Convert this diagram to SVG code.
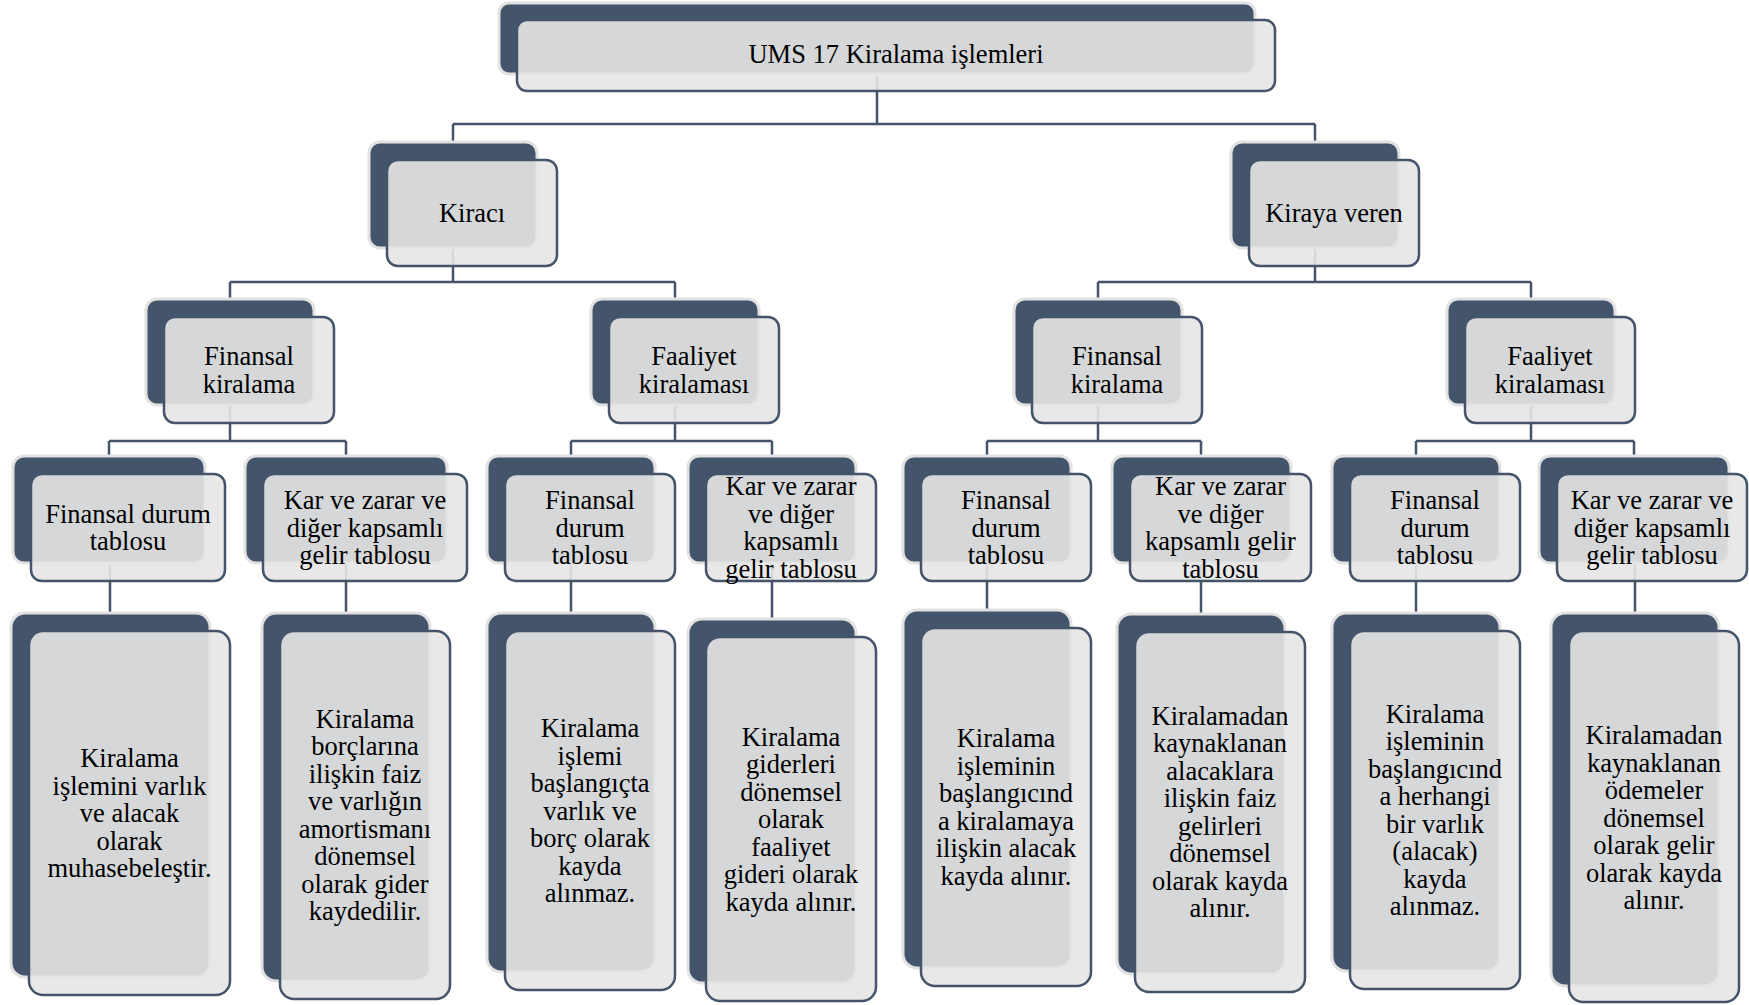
<svg xmlns="http://www.w3.org/2000/svg" width="1749" height="1005" viewBox="0 0 1749 1005">
<style>
.bk{fill:#44546a;stroke:#e2e2e2;stroke-width:3}
.fr{fill:#e6e6e6;fill-opacity:0.9;stroke:#44546a;stroke-width:2.5}
.t{font-family:"Liberation Serif","Times New Roman",serif;font-size:26.5px;fill:#000;text-anchor:middle}
.c{fill:none;stroke:#44546a;stroke-width:2.5}
</style>
<rect width="1749" height="1005" fill="#ffffff"/>
<g id="connectors">
<path class="c" d="M877 60V124M453 124H1315M453 124V142M1315 124V142"/>
<path class="c" d="M453 230V282M230 282H675M230 282V299M675 282V299"/>
<path class="c" d="M1315 230V282M1098 282H1531M1098 282V299M1531 282V299"/>
<path class="c" d="M230 390V441M109 441H346M109 441V456M346 441V456"/>
<path class="c" d="M675 390V441M571 441H772M571 441V456M772 441V456"/>
<path class="c" d="M1098 390V441M987 441H1201M987 441V456M1201 441V456"/>
<path class="c" d="M1531 390V441M1416 441H1634M1416 441V456M1634 441V456"/>
<path class="c" d="M110 550V613M346 550V613M571 550V613M772 550V619M987 550V610M1201 550V614M1416 550V613M1635 550V613"/>
</g>
<g id="n-top"><rect class="bk" x="499" y="3" width="756" height="71" rx="10"/><rect class="fr" x="517" y="20" width="758" height="71" rx="10"/>
<text class="t" x="896" y="63">UMS 17 Kiralama işlemleri</text></g>
<g id="n-kiraci"><rect class="bk" x="369" y="142" width="168" height="106" rx="11"/><rect class="fr" x="387" y="160" width="170" height="106" rx="11"/>
<text class="t" x="472" y="222">Kiracı</text></g>
<g id="n-kirayaveren"><rect class="bk" x="1231" y="142" width="168" height="106" rx="11"/><rect class="fr" x="1249" y="160" width="170" height="106" rx="11"/>
<text class="t" x="1334" y="222">Kiraya veren</text></g>
<g id="n-finL"><rect class="bk" x="146" y="299" width="168" height="106" rx="11"/><rect class="fr" x="164" y="317" width="170" height="106" rx="11"/>
<text class="t"><tspan x="249" y="365">Finansal</tspan><tspan x="249" y="392.5">kiralama</tspan></text></g>
<g id="n-faalL"><rect class="bk" x="591" y="299" width="168" height="106" rx="11"/><rect class="fr" x="609" y="317" width="170" height="106" rx="11"/>
<text class="t"><tspan x="694" y="365">Faaliyet</tspan><tspan x="694" y="392.5">kiralaması</tspan></text></g>
<g id="n-finR"><rect class="bk" x="1014" y="299" width="168" height="106" rx="11"/><rect class="fr" x="1032" y="317" width="170" height="106" rx="11"/>
<text class="t"><tspan x="1117" y="365">Finansal</tspan><tspan x="1117" y="392.5">kiralama</tspan></text></g>
<g id="n-faalR"><rect class="bk" x="1447" y="299" width="168" height="106" rx="11"/><rect class="fr" x="1465" y="317" width="170" height="106" rx="11"/>
<text class="t"><tspan x="1550" y="365">Faaliyet</tspan><tspan x="1550" y="392.5">kiralaması</tspan></text></g>
<g id="n-l3a"><rect class="bk" x="13" y="456" width="192" height="107" rx="11"/><rect class="fr" x="31" y="474" width="194" height="107" rx="11"/>
<text class="t"><tspan x="128" y="522.75">Finansal durum</tspan><tspan x="128" y="550.25">tablosu</tspan></text></g>
<g id="n-l3b"><rect class="bk" x="245" y="456" width="202" height="107" rx="11"/><rect class="fr" x="263" y="474" width="204" height="107" rx="11"/>
<text class="t"><tspan x="365" y="509">Kar ve zarar ve</tspan><tspan x="365" y="536.5">diğer kapsamlı</tspan><tspan x="365" y="564">gelir tablosu</tspan></text></g>
<g id="n-l3c"><rect class="bk" x="487" y="456" width="168" height="107" rx="11"/><rect class="fr" x="505" y="474" width="170" height="107" rx="11"/>
<text class="t"><tspan x="590" y="509">Finansal</tspan><tspan x="590" y="536.5">durum</tspan><tspan x="590" y="564">tablosu</tspan></text></g>
<g id="n-l3d"><rect class="bk" x="688" y="456" width="168" height="107" rx="11"/><rect class="fr" x="706" y="474" width="170" height="107" rx="11"/>
<text class="t"><tspan x="791" y="495.25">Kar ve zarar</tspan><tspan x="791" y="522.75">ve diğer</tspan><tspan x="791" y="550.25">kapsamlı</tspan><tspan x="791" y="577.75">gelir tablosu</tspan></text></g>
<g id="n-l3e"><rect class="bk" x="903" y="456" width="168" height="107" rx="11"/><rect class="fr" x="921" y="474" width="170" height="107" rx="11"/>
<text class="t"><tspan x="1006" y="509">Finansal</tspan><tspan x="1006" y="536.5">durum</tspan><tspan x="1006" y="564">tablosu</tspan></text></g>
<g id="n-l3f"><rect class="bk" x="1112" y="456" width="179" height="107" rx="11"/><rect class="fr" x="1130" y="474" width="181" height="107" rx="11"/>
<text class="t"><tspan x="1220.5" y="495.25">Kar ve zarar</tspan><tspan x="1220.5" y="522.75">ve diğer</tspan><tspan x="1220.5" y="550.25">kapsamlı gelir</tspan><tspan x="1220.5" y="577.75">tablosu</tspan></text></g>
<g id="n-l3g"><rect class="bk" x="1332" y="456" width="168" height="107" rx="11"/><rect class="fr" x="1350" y="474" width="170" height="107" rx="11"/>
<text class="t"><tspan x="1435" y="509">Finansal</tspan><tspan x="1435" y="536.5">durum</tspan><tspan x="1435" y="564">tablosu</tspan></text></g>
<g id="n-l3h"><rect class="bk" x="1539" y="456" width="190" height="107" rx="11"/><rect class="fr" x="1557" y="474" width="190" height="107" rx="11"/>
<text class="t"><tspan x="1652" y="509">Kar ve zarar ve</tspan><tspan x="1652" y="536.5">diğer kapsamlı</tspan><tspan x="1652" y="564">gelir tablosu</tspan></text></g>
<g id="n-l4a"><rect class="bk" x="11" y="613" width="199" height="364" rx="14"/><rect class="fr" x="29" y="631" width="201" height="364" rx="14"/>
<text class="t"><tspan x="129.5" y="767">Kiralama</tspan><tspan x="129.5" y="794.5">işlemini varlık</tspan><tspan x="129.5" y="822">ve alacak</tspan><tspan x="129.5" y="849.5">olarak</tspan><tspan x="129.5" y="877">muhasebeleştir.</tspan></text></g>
<g id="n-l4b"><rect class="bk" x="262" y="613" width="168" height="368" rx="14"/><rect class="fr" x="280" y="631" width="170" height="368" rx="14"/>
<text class="t"><tspan x="365" y="727.75">Kiralama</tspan><tspan x="365" y="755.25">borçlarına</tspan><tspan x="365" y="782.75">ilişkin faiz</tspan><tspan x="365" y="810.25">ve varlığın</tspan><tspan x="365" y="837.75">amortismanı</tspan><tspan x="365" y="865.25">dönemsel</tspan><tspan x="365" y="892.75">olarak gider</tspan><tspan x="365" y="920.25">kaydedilir.</tspan></text></g>
<g id="n-l4c"><rect class="bk" x="487" y="613" width="168" height="359" rx="14"/><rect class="fr" x="505" y="631" width="170" height="359" rx="14"/>
<text class="t"><tspan x="590" y="737">Kiralama</tspan><tspan x="590" y="764.5">işlemi</tspan><tspan x="590" y="792">başlangıçta</tspan><tspan x="590" y="819.5">varlık ve</tspan><tspan x="590" y="847">borç olarak</tspan><tspan x="590" y="874.5">kayda</tspan><tspan x="590" y="902">alınmaz.</tspan></text></g>
<g id="n-l4d"><rect class="bk" x="688" y="619" width="168" height="364" rx="14"/><rect class="fr" x="706" y="637" width="170" height="364" rx="14"/>
<text class="t"><tspan x="791" y="745.5">Kiralama</tspan><tspan x="791" y="773">giderleri</tspan><tspan x="791" y="800.5">dönemsel</tspan><tspan x="791" y="828">olarak</tspan><tspan x="791" y="855.5">faaliyet</tspan><tspan x="791" y="883">gideri olarak</tspan><tspan x="791" y="910.5">kayda alınır.</tspan></text></g>
<g id="n-l4e"><rect class="bk" x="903" y="610" width="168" height="358" rx="14"/><rect class="fr" x="921" y="628" width="170" height="358" rx="14"/>
<text class="t"><tspan x="1006" y="747.25">Kiralama</tspan><tspan x="1006" y="774.75">işleminin</tspan><tspan x="1006" y="802.25">başlangıcınd</tspan><tspan x="1006" y="829.75">a kiralamaya</tspan><tspan x="1006" y="857.25">ilişkin alacak</tspan><tspan x="1006" y="884.75">kayda alınır.</tspan></text></g>
<g id="n-l4f"><rect class="bk" x="1117" y="614" width="168" height="360" rx="14"/><rect class="fr" x="1135" y="632" width="170" height="360" rx="14"/>
<text class="t"><tspan x="1220" y="724.75">Kiralamadan</tspan><tspan x="1220" y="752.25">kaynaklanan</tspan><tspan x="1220" y="779.75">alacaklara</tspan><tspan x="1220" y="807.25">ilişkin faiz</tspan><tspan x="1220" y="834.75">gelirleri</tspan><tspan x="1220" y="862.25">dönemsel</tspan><tspan x="1220" y="889.75">olarak kayda</tspan><tspan x="1220" y="917.25">alınır.</tspan></text></g>
<g id="n-l4g"><rect class="bk" x="1332" y="613" width="168" height="358" rx="14"/><rect class="fr" x="1350" y="631" width="170" height="358" rx="14"/>
<text class="t"><tspan x="1435" y="722.75">Kiralama</tspan><tspan x="1435" y="750.25">işleminin</tspan><tspan x="1435" y="777.75">başlangıcınd</tspan><tspan x="1435" y="805.25">a herhangi</tspan><tspan x="1435" y="832.75">bir varlık</tspan><tspan x="1435" y="860.25">(alacak)</tspan><tspan x="1435" y="887.75">kayda</tspan><tspan x="1435" y="915.25">alınmaz.</tspan></text></g>
<g id="n-l4h"><rect class="bk" x="1551" y="613" width="168" height="373" rx="14"/><rect class="fr" x="1569" y="631" width="170" height="371" rx="14"/>
<text class="t"><tspan x="1654" y="744">Kiralamadan</tspan><tspan x="1654" y="771.5">kaynaklanan</tspan><tspan x="1654" y="799">ödemeler</tspan><tspan x="1654" y="826.5">dönemsel</tspan><tspan x="1654" y="854">olarak gelir</tspan><tspan x="1654" y="881.5">olarak kayda</tspan><tspan x="1654" y="909">alınır.</tspan></text></g>
</svg>
